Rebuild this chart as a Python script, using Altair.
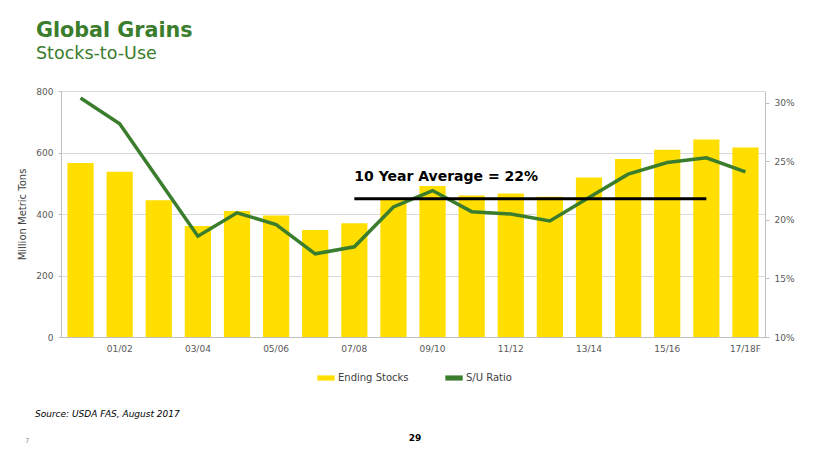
import altair as alt
import pandas as pd

seasons = ["00/01", "01/02", "02/03", "03/04", "04/05", "05/06", "06/07", "07/08", "08/09",
           "09/10", "10/11", "11/12", "12/13", "13/14", "14/15", "15/16", "16/17", "17/18F"]
ending_stocks = [566, 537, 445, 361, 410, 395, 348, 370, 446, 491, 460, 467, 456, 519, 579, 609, 642, 616]
su_ratio = [0.304, 0.282, 0.234, 0.186, 0.206, 0.196, 0.171, 0.177, 0.211, 0.225, 0.207, 0.205,
            0.199, 0.219, 0.239, 0.249, 0.253, 0.241]
series_names = ["Ending Stocks", "S/U Ratio"]
shown_labels = seasons[1::2]
avg_start, avg_end = "07/08", "16/17"
avg_value = 0.218
avg_label = "10 Year Average = 22%"

GREEN = "#3a7d2c"
YELLOW = "#FFDE00"
FONT = "DejaVu Sans"

df = pd.DataFrame({"season": seasons, "stocks": ending_stocks, "ratio": su_ratio})
one = pd.DataFrame({"k": [0]})

xscale = alt.Scale(domain=seasons, paddingInner=0.33, paddingOuter=0.165)
color_scale = alt.Scale(domain=series_names, range=[YELLOW, GREEN])

x_enc = alt.X("season:N", scale=xscale, sort=seasons, title=None,
              axis=alt.Axis(values=shown_labels, labelAngle=0, ticks=False, labelPadding=7,
                            domainColor="#bfbfbf", labelColor="#595959", labelFontSize=9,
                            labelFont=FONT, grid=False))

legend = alt.Legend(title=None, orient="none", legendX=256, legendY=278,
                    direction="horizontal",
                    symbolType="M-1,-0.3H1V0.3H-1Z", symbolSize=300,
                    symbolStrokeWidth=0, labelFont=FONT, labelFontSize=10,
                    labelColor="#404040", columnPadding=36, labelOffset=3)

bars = alt.Chart(df).transform_calculate(series="'%s'" % series_names[0]).mark_bar().encode(
    x=x_enc,
    y=alt.Y("stocks:Q", scale=alt.Scale(domain=[0, 800], nice=False),
            axis=alt.Axis(values=[0, 200, 400, 600, 800], title="Million Metric Tons",
                          titleFontWeight="normal", titleFontSize=10, titleColor="#404040",
                          titleFont=FONT, titlePadding=8, labelFont=FONT, labelFontSize=9,
                          labelColor="#595959", labelPadding=5, tickSize=3, tickColor="#bfbfbf",
                          domainColor="#bfbfbf", grid=True, gridColor="#d9d9d9")),
    color=alt.Color("series:N", scale=color_scale, legend=legend),
)

y_right = alt.Y("ratio:Q", scale=alt.Scale(domain=[0.10, 0.31], nice=False, zero=False),
                axis=alt.Axis(orient="right", values=[0.10, 0.15, 0.20, 0.25, 0.30], format=".0%",
                              title=None, grid=False, labelFont=FONT, labelFontSize=9,
                              labelColor="#595959", labelPadding=5, tickSize=4,
                              tickColor="#bfbfbf", domainColor="#bfbfbf"))

line = alt.Chart(df).transform_calculate(series="'%s'" % series_names[1]).mark_line(strokeWidth=3.5).encode(
    x=alt.X("season:N", scale=xscale, sort=seasons),
    y=y_right,
    color=alt.Color("series:N", scale=color_scale, legend=legend),
)

avg_rule = alt.Chart(one).mark_rule(color="black", strokeWidth=3).encode(
    x=alt.XDatum(avg_start, bandPosition=0.5),
    x2=alt.X2Datum(avg_end, bandPosition=0.5),
    y=alt.YDatum(avg_value),
)

avg_text = alt.Chart(one).mark_text(align="left", baseline="alphabetic", dy=-18,
                                    font=FONT, fontSize=14, fontWeight="bold",
                                    color="black").encode(
    x=alt.XDatum(avg_start),
    y=alt.YDatum(avg_value),
    text=alt.value(avg_label),
)

right_layer = alt.layer(line, avg_rule, avg_text)


def label(txt, x, y, size, weight="normal", color="black", style="normal", align="left"):
    return alt.Chart(one).mark_text(align=align, baseline="alphabetic", font=FONT, fontSize=size,
                                    fontWeight=weight, color=color, fontStyle=style).encode(
        x=alt.value(x), y=alt.value(y), text=alt.value(txt))


annotations = alt.layer(
    label("Global Grains", -25, -54, 20.7, "bold", GREEN),
    label("Stocks-to-Use", -25, -32, 17.5, "normal", GREEN),
    label("Source: USDA FAS, August 2017", -26, 326, 9, "normal", "#000000", "italic"),
    label("29", 354, 350, 9, "bold", "#000000", align="center"),
    label("7", -36, 352, 7, "normal", "#999999"),
)

chart = alt.layer(bars, right_layer, annotations).resolve_scale(y="independent").properties(
    width=704, height=246,
    autosize=alt.AutoSizeParams(type="none"),
    padding={"left": 53, "top": 83, "right": 50, "bottom": 120},
).configure_view(stroke=None)

chart.save("out.html", embed_options={"renderer": "svg", "actions": False})
